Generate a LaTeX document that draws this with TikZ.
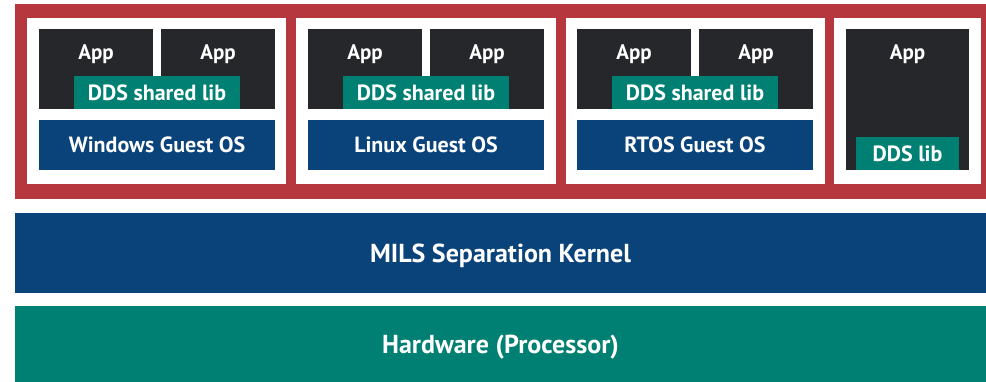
\documentclass[tikz,border=0pt]{standalone}
\usepackage{fontspec}
\setmainfont{PT Sans}
\usetikzlibrary{positioning}
\definecolor{milsred}{RGB}{183,55,62}
\definecolor{appdark}{RGB}{38,39,43}
\definecolor{ddsgreen}{RGB}{0,128,114}
\definecolor{osblue}{RGB}{10,66,122}

\begin{document}
\begin{tikzpicture}[x=1pt,y=-1pt,
    box/.style={anchor=north west,inner sep=0pt,outer sep=0pt},
    part/.style={box,fill=white,minimum height=166pt},
    app/.style={box,fill=appdark,minimum width=114pt,minimum height=80pt},
    lib/.style={box,fill=ddsgreen,text=white,font=\bfseries\fontsize{22}{24}\selectfont,minimum height=33pt},
    os/.style={box,fill=osblue,text=white,font=\bfseries\fontsize{22}{24}\selectfont,minimum width=236pt,minimum height=50pt},
    txt/.style={inner sep=0pt,text=white,font=\bfseries\fontsize{21}{24}\selectfont},
    layer/.style={box,minimum width=971pt,text depth=0pt,text=white,font=\bfseries\fontsize{26}{30}\selectfont}]
  \useasboundingbox (0,0) rectangle (986,382);
  % partitions
  \node[box,fill=milsred,minimum width=971pt,minimum height=195pt] (frame) at (15,4) {};
  \node[part,minimum width=259pt] (p1) at (27,18) {};
  \node[part,minimum width=260pt] (p2) at (296,18) {};
  \node[part,minimum width=259pt] (p3) at (566,18) {};
  \node[part,minimum width=147pt] (p4) at (834,18) {};
  % windows
  \node[app] (w1) at (39,29) {};
  \node[app] (w2) [right=8pt of w1] {};
  \node[txt] (w1t) [below=15pt of w1.north] {App};
  \node[txt] (w2t) [below=15pt of w2.north] {App};
  \node[lib,minimum width=166pt] (wlib) at (74,76) {DDS shared lib};
  \node[os] (wos) at (39,120) {Windows Guest OS};
  % linux
  \node[app] (l1) at (308,29) {};
  \node[app] (l2) [right=8pt of l1] {};
  \node[txt] (l1t) [below=15pt of l1.north] {App};
  \node[txt] (l2t) [below=15pt of l2.north] {App};
  \node[lib,minimum width=166pt] (llib) at (343,76) {DDS shared lib};
  \node[os] (los) at (308,120) {Linux Guest OS};
  % rtos
  \node[app] (r1) at (577,29) {};
  \node[app] (r2) [right=8pt of r1] {};
  \node[txt] (r1t) [below=15pt of r1.north] {App};
  \node[txt] (r2t) [below=15pt of r2.north] {App};
  \node[lib,minimum width=166pt] (rlib) at (612,76) {DDS shared lib};
  \node[os] (ros) at (577,120) {RTOS Guest OS};
  % bare app
  \node[app,minimum width=123pt,minimum height=141pt] (b1) at (846,29) {};
  \node[txt] (b1t) [below=15pt of b1.north] {App};
  \node[lib,minimum width=103pt] (blib) at (856,137) {DDS lib};
  % kernel and hardware
  \node[layer,fill=osblue,minimum height=80pt] (kernel) at (15,213) {MILS Separation Kernel};
  \node[layer,fill=ddsgreen,minimum height=76pt] (hw) at (15,306) {Hardware (Processor)};
\end{tikzpicture}
\end{document}
